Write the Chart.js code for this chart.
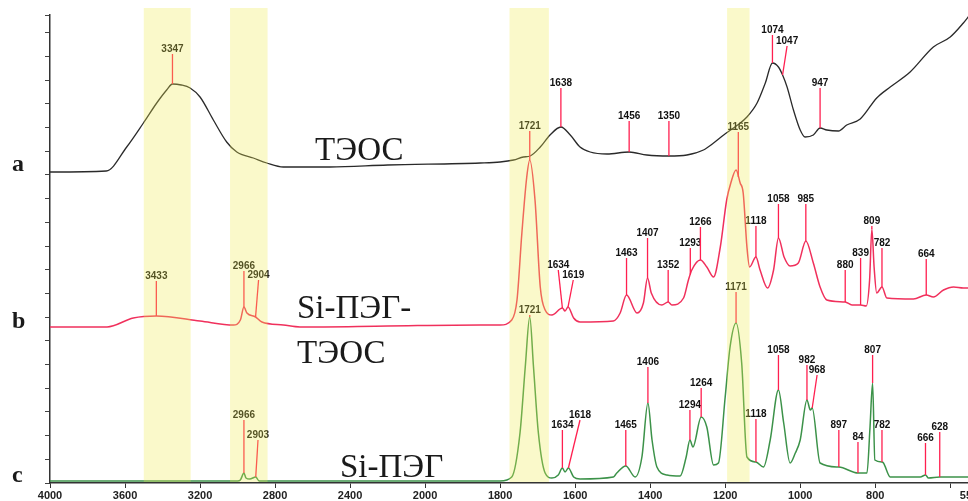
<!DOCTYPE html>
<html><head><meta charset="utf-8">
<script src="https://cdn.jsdelivr.net/npm/chart.js@4.4.1/dist/chart.umd.min.js"></script>
<style>
html,body{margin:0;padding:0;background:#fff;overflow:hidden;width:968px;height:501px}
#wrap{position:absolute;left:0;top:0;width:1000px;height:501px}
</style></head>
<body><div id="wrap"><canvas id="c" width="1000" height="501"></canvas></div>
<script>
// ---- x axis (wavenumber, cm-1) ----
const X_MAX = 4000, X_MIN = 550, X_BREAK = 2000, X_STRETCH = 2;
const X_TICKS = [4000, 3600, 3200, 2800, 2400, 2000, 1800, 1600, 1400, 1200, 1000, 800, 600, 550];
const X_TICK_TEXT = ['4000','3600','3200','2800','2400','2000','1800','1600','1400','1200','1000','800','','550'];

// ---- trace a: ТЭОС (black) ----
const A_WN  = [4000,3700,3591,3502,3431,3378,3347,3300,3253,3200,3129,3058,3004,2916,2844,2756,2507,2200,1853,1800,1764,1738,1720,1693,1667,1638,1613,1587,1560,1515,1456,1409,1350,1302,1258,1231,1204,1167,1142,1115,1093,1074,1058,1047,1035,1018,1000,987,965,947,929,898,876,840,796,760,707,645,600,565,550];
const A_VAL = [311, 312, 336, 360, 380, 393, 399, 398, 395, 386, 363, 341, 331, 325, 320, 316, 316, 318, 320, 321, 323, 326, 327, 336, 348, 356, 348, 336, 331, 329, 331, 328, 327, 328, 333, 340, 348, 358, 366, 380, 400, 420, 416, 408, 396, 373, 353, 346,348,355,353,352,358,364,385,396,411,436,446,460,467];

// ---- trace b: Si-ПЭГ-ТЭОС (red) ----
const B_WN  = [4000,3696,3556,3433,3200,3022,2985,2966,2950,2904,2870,2756,2667,2200,1853,1800,1769,1755,1742,1729,1721,1707,1693,1680,1662,1634,1627,1619,1604,1587,1498,1480,1463,1435,1418,1407,1397,1369,1352,1342,1311,1298,1289,1266,1249,1231,1213,1196,1185,1171,1160,1152,1142,1135,1118,1107,1087,1071,1058,1043,1027,1005,985,965,947,929,880,862,839,824,815,809,803,796,782,769,698,664,645,618,591,565,550];
const B_VAL = [156, 156, 165, 167, 162, 158, 163, 176, 170, 166, 161, 158, 156, 157, 158, 158, 163, 183, 250, 306, 323, 283, 196, 173, 168, 175, 172, 176, 165, 161, 162, 170, 188, 170, 180, 205, 190, 178, 181, 178, 185, 203, 213, 223, 216, 206, 236, 283, 300, 313, 300, 290, 236, 216, 226, 213, 195, 213, 245, 226, 217, 220, 242,220,196,183,181,178,178,177,203,254,216,190,196,185,184,188,186,193,196,195,195];

// ---- trace c: Si-ПЭГ (green) ----
const C_WN  = [4000,3000,2985,2966,2955,2935,2903,2885,1800,1769,1747,1733,1721,1711,1698,1680,1662,1645,1634,1627,1618,1604,1587,1498,1489,1465,1440,1422,1406,1395,1382,1355,1320,1304,1294,1286,1264,1249,1231,1218,1200,1187,1171,1156,1142,1118,1098,1080,1058,1044,1027,1013,1000,982,973,968,947,897,846,822,814,807,801,782,778,760,680,666,658,628,550];
const C_VAL = [2,   2,   3,   10,  5,   4,   6,   2,   2,   6,   50,  116, 166, 116, 50,  10,  5,   8,   15,  11,  15,  6,   4,   6,   10,  17,  6,   26,  80,  43,  16,  8,   7,   26,  43,  36,  66,  56,  18,  20,  86,  136, 160, 120, 26,  21,  16,  43,  93,  60,  20,  30,  43,  83,  73,  75,  20,  16,  10,  10,  55,  100, 23,  21,  20,  6,   6,   8,   5,   6,   6];

// ---- peak annotations ----
const A_MARK_WN   = [3347, 1638, 1456, 1350, 1074, 1047, 947];
const A_MARK_TEXT = ['3347','1638','1456','1350','1074','1047','947'];
const A_MARK_LEVEL = [434, 400, 367, 367, 453, 442, 400];
const A_MARK_AT    = [null,null,null,null,null,1035,null];

const B_MARK_WN   = [3433, 2966, 2904, 1721, 1634, 1619, 1463, 1407, 1352, 1293, 1266, 1165, 1118, 1058, 985, 880, 839, 809, 782, 664];
const B_MARK_TEXT = ['3433','2966','2904','1721','1634','1619','1463','1407','1352','1293','1266','1165','1118','1058','985','880','839','809','782','664'];
const B_MARK_LEVEL = [207, 217, 208, 357, 218, 208, 230, 250, 218, 240, 261, 356, 262, 284, 284, 218, 230, 262, 240, 229];
const B_MARK_AT    = [null,null,2888,null,1645,1605,null,null,null,null,null,null,null,null,null,null,null,null,null,null];

const C_MARK_WN   = [2966, 2903, 1721, 1634, 1618, 1465, 1406, 1294, 1264, 1171, 1118, 1058, 982, 968, 897, 846, 807, 782, 666, 628];
const C_MARK_TEXT = ['2966','2903','1721','1634','1618','1465','1406','1294','1264','1171','1118','1058','982','968','897','84','807','782','666','628'];
const C_MARK_LEVEL = [68, 48, 173, 58, 68, 58, 121, 78, 100, 196, 69, 133, 123, 113, 58, 46, 133, 58, 45, 56];
const C_MARK_AT    = [null,2891,null,null,1587,null,null,null,null,null,null,null,null,955,null,null,null,null,null,null];

const BANDS = [[3500,3250],[3040,2840],[1775,1670],[1195,1135]];

// ---- piecewise wavenumber scale (expanded below 2000 cm-1) ----
class IRScale extends Chart.LinearScale {
  _irTotal(){ return (X_MAX - X_BREAK) + X_STRETCH * (X_BREAK - X_MIN); }
  getPixelForValue(v){
    const u = v >= X_BREAK ? (X_MAX - v) : (X_MAX - X_BREAK) + X_STRETCH * (X_BREAK - v);
    return this.left + this.width * u / this._irTotal();
  }
  getValueForPixel(p){
    const u = (p - this.left) / this.width * this._irTotal();
    return u <= (X_MAX - X_BREAK) ? X_MAX - u : X_BREAK - (u - (X_MAX - X_BREAK)) / X_STRETCH;
  }
}
IRScale.id = 'irscale';
IRScale.defaults = Chart.LinearScale.defaults;
Chart.register(IRScale);

function pts(w, v){ return w.map((x,i)=>({x:x, y:v[i]})); }
function valueAt(w, v, x){
  for (let i=0;i<w.length-1;i++){
    if ((w[i]-x)*(w[i+1]-x) <= 0){
      const t = (x - w[i])/(w[i+1]-w[i]);
      return v[i] + t*(v[i+1]-v[i]);
    }
  }
  return v[v.length-1];
}

const overlay = {
  id: 'overlay',
  afterDatasetsDraw(chart){
    const {ctx, scales:{x, y}, chartArea} = chart;
    ctx.save();
    const sets = [
      [A_WN, A_VAL, A_MARK_WN, A_MARK_TEXT, A_MARK_LEVEL, A_MARK_AT],
      [B_WN, B_VAL, B_MARK_WN, B_MARK_TEXT, B_MARK_LEVEL, B_MARK_AT],
      [C_WN, C_VAL, C_MARK_WN, C_MARK_TEXT, C_MARK_LEVEL, C_MARK_AT]
    ];
    ctx.lineWidth = 1.3;
    ctx.strokeStyle = '#ff1f4f';
    ctx.font = 'bold 10px "Liberation Sans"';
    ctx.textAlign = 'center';
    ctx.textBaseline = 'middle';
    ctx.fillStyle = '#111';
    for (const [w, v, mw, mt, ml, ma] of sets){
      mw.forEach((wn, i) => {
        const px = x.getPixelForValue(wn);
        const py = y.getPixelForValue(valueAt(w, v, wn));
        const lx = x.getPixelForValue(ma[i] != null ? ma[i] : wn);
        const ly = y.getPixelForValue(ml[i]);
        ctx.beginPath();
        ctx.moveTo(lx, ly + 5);
        ctx.lineTo(px, py);
        ctx.stroke();
        ctx.fillText(mt[i], lx, ly);
      });
    }
    // series names
    ctx.textAlign = 'left';
    ctx.textBaseline = 'alphabetic';
    ctx.fillStyle = '#1a1a1a';
    ctx.font = '33px "Liberation Serif"';
    ctx.fillText('ТЭОС', 315, 160);
    ctx.fillText('Si-ПЭГ-', 297, 318);
    ctx.fillText('ТЭОС', 297, 363);
    ctx.fillText('Si-ПЭГ', 340, 477);
    ctx.font = 'bold 24px "Liberation Serif"';
    ctx.fillText('a', 12, 171);
    ctx.fillText('b', 12, 328);
    ctx.fillText('c', 12, 482);
    // highlight bands
    ctx.fillStyle = 'rgba(240,234,80,0.30)';
    for (const [a, b] of BANDS){
      const x1 = x.getPixelForValue(a), x2 = x.getPixelForValue(b);
      ctx.fillRect(x1, 8, x2 - x1, chartArea.bottom - 9);
    }
    ctx.restore();
  }
};

new Chart(document.getElementById('c'), {
  type: 'line',
  data: {
    datasets: [
      {data: pts(A_WN, A_VAL), borderColor: '#2a2a2a', borderWidth: 1.3},
      {data: pts(B_WN, B_VAL), borderColor: '#f0305c', borderWidth: 1.5},
      {data: pts(C_WN, C_VAL), borderColor: '#3c9249', borderWidth: 1.5}
    ]
  },
  options: {
    responsive: false,
    devicePixelRatio: 1,
    animation: false,
    events: [],
    elements: {point: {radius: 0}, line: {cubicInterpolationMode: 'monotone', fill: false}},
    layout: {padding: {top: 15, right: 31, left: 0, bottom: 0}},
    plugins: {legend: {display: false}, tooltip: {enabled: false}},
    scales: {
      x: {
        type: 'irscale', min: X_MIN, max: X_MAX,
        afterBuildTicks: s => { s.ticks = X_TICKS.map(v => ({value: v})); },
        afterFit: s => { s.height = 18; },
        ticks: {autoSkip: false, maxRotation: 0, minRotation: 0, padding: 1, color: '#222',
                font: {family: 'Liberation Sans', weight: 'bold', size: 11},
                callback: (val, i) => X_TICK_TEXT[i]},
        grid: {drawOnChartArea: false, drawTicks: true, tickLength: 5, color: '#333'},
        border: {display: true, color: '#333', width: 1.5}
      },
      y: {
        type: 'linear', min: 0, max: 468,
        afterBuildTicks: s => { const t = []; for (let i = 0; i < 20; i++) t.push({value: i * 23.7}); t.push({value: 468}); s.ticks = t; },
        afterFit: s => { s.width = 50; },
        ticks: {display: false},
        grid: {drawOnChartArea: false, drawTicks: true, tickLength: 5, color: '#444'},
        border: {display: true, color: '#333', width: 1.5}
      }
    }
  },
  plugins: [overlay]
});
</script></body></html>
